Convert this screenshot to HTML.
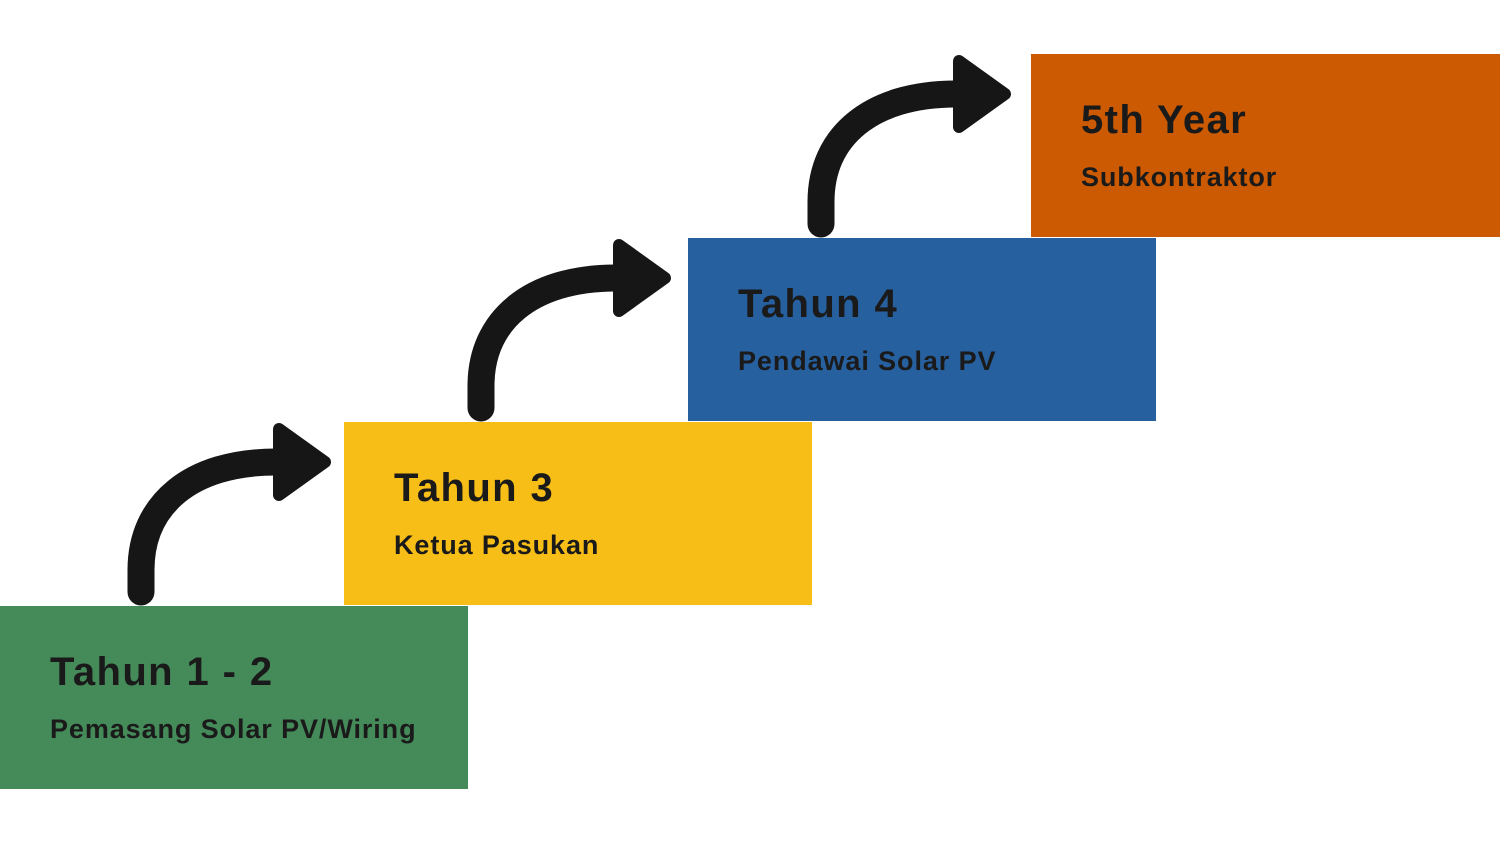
<!DOCTYPE html>
<html><head><style>
body{margin:0;width:1500px;height:844px;background:#fff;position:relative;overflow:hidden;font-family:"Liberation Sans",sans-serif}
.b{position:absolute;width:468px;height:183px}
.t{position:absolute;left:50px;top:44px;font-size:40px;font-weight:bold;color:#1a1a1a;letter-spacing:1.4px}
.s{position:absolute;left:50px;top:108px;font-size:27px;font-weight:bold;color:#1a1a1a;letter-spacing:0.9px}
</style></head><body>
<div class="b" style="left:0;top:606px;background:#458B5A"><div class="t">Tahun 1 - 2</div><div class="s">Pemasang Solar PV/Wiring</div></div>
<div class="b" style="left:344px;top:422px;background:#F7BE17"><div class="t">Tahun 3</div><div class="s">Ketua Pasukan</div></div>
<div class="b" style="left:688px;top:238px;background:#27609E"><div class="t">Tahun 4</div><div class="s">Pendawai Solar PV</div></div>
<div class="b" style="left:1031px;top:54px;width:469px;background:#CC5A02"><div class="t">5th Year</div><div class="s">Subkontraktor</div></div>
<svg width="1500" height="844" style="position:absolute;left:0;top:0">
<defs><g id="a">
<path d="M141,592 L141,570 C141,505 190,462 276,462" fill="none" stroke="#161616" stroke-width="27" stroke-linecap="round"/>
<polygon points="279,429 279,495 325,462" fill="#161616" stroke="#161616" stroke-width="12" stroke-linejoin="round"/>
</g></defs>
<use href="#a"/>
<use href="#a" transform="translate(340,-184)"/>
<use href="#a" transform="translate(680,-368)"/>
</svg>
</body></html>
